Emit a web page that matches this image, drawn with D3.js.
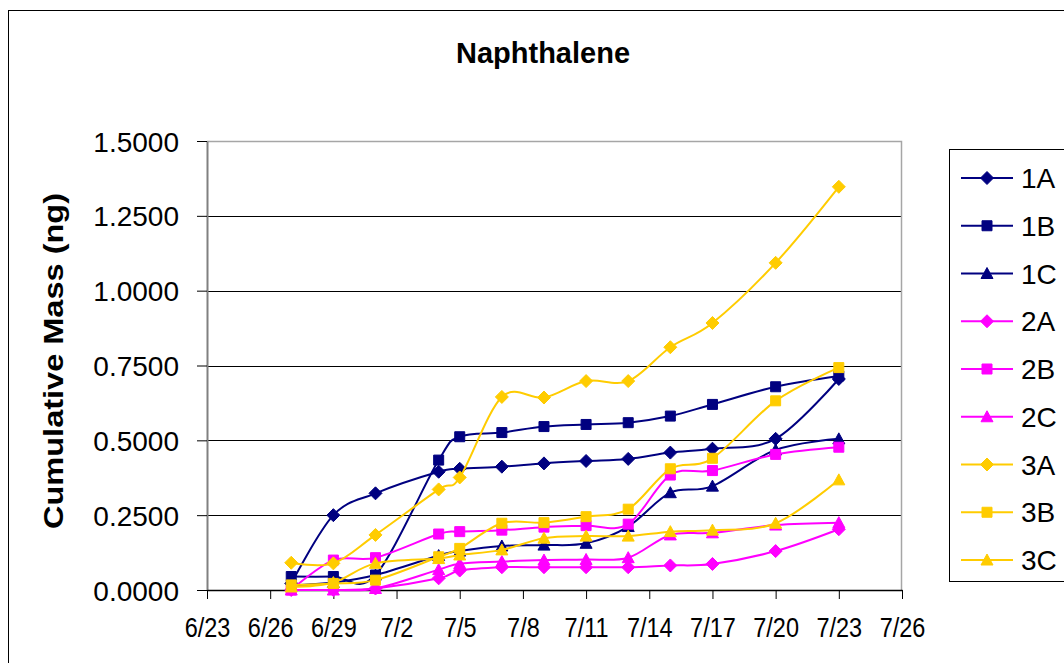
<!DOCTYPE html>
<html>
<head>
<meta charset="utf-8">
<script src="https://cdn.jsdelivr.net/npm/d3@7"></script>
<style>
  html, body { margin: 0; padding: 0; background: #fff; }
  svg { display: block; font-family: "Liberation Sans", Arial, sans-serif; }
</style>
</head>
<body>
<svg id="chart" width="1064" height="663"></svg>
<script>
// ---- Data ----
const dates = ["6/27","6/29","7/1","7/4","7/5","7/7","7/9","7/11","7/13","7/15","7/17","7/20","7/23"];
const xTickLabels = ["6/23","6/26","6/29","7/2","7/5","7/8","7/11","7/14","7/17","7/20","7/23","7/26"];
const yTickValues = [0, 0.25, 0.5, 0.75, 1.0, 1.25, 1.5];
const seriesNames = ["1A","1B","1C","2A","2B","2C","3A","3B","3C"];
const s1A = [0.022, 0.250, 0.323, 0.395, 0.405, 0.412, 0.423, 0.431, 0.438, 0.459, 0.472, 0.505, 0.705];
const s1B = [0.045, 0.045, 0.050, 0.434, 0.512, 0.526, 0.546, 0.553, 0.559, 0.581, 0.620, 0.679, 0.715];
const s1C = [0.015, 0.025, 0.050, 0.115, 0.130, 0.147, 0.150, 0.156, 0.212, 0.325, 0.347, 0.468, 0.505];
const s2A = [0.000, 0.000, 0.005, 0.039, 0.065, 0.076, 0.076, 0.076, 0.076, 0.082, 0.087, 0.130, 0.203];
const s2B = [0.000, 0.100, 0.108, 0.187, 0.195, 0.200, 0.210, 0.215, 0.220, 0.384, 0.399, 0.453, 0.477];
const s2C = [0.000, 0.000, 0.005, 0.068, 0.088, 0.095, 0.100, 0.102, 0.108, 0.184, 0.191, 0.217, 0.225];
const s3A = [0.091, 0.089, 0.184, 0.336, 0.376, 0.645, 0.643, 0.698, 0.698, 0.811, 0.892, 1.093, 1.347];
const s3B = [0.017, 0.022, 0.033, 0.111, 0.139, 0.223, 0.225, 0.245, 0.270, 0.405, 0.440, 0.632, 0.743];
const s3C = [0.010, 0.025, 0.089, 0.105, 0.117, 0.134, 0.173, 0.180, 0.180, 0.195, 0.200, 0.223, 0.368];
const seriesValues = [s1A, s1B, s1C, s2A, s2B, s2C, s3A, s3B, s3C];
const seriesColors = ["#000080","#000080","#000080","#FF00FF","#FF00FF","#FF00FF","#FFCC00","#FFCC00","#FFCC00"];
const seriesShapes = ["diamond","square","triangle","diamond","square","triangle","diamond","square","triangle"];

// ---- Setup ----
const YEAR = 2005;
const parse = s => d3.timeParse("%m/%d/%Y")(s + "/" + YEAR);
const svg = d3.select("#chart");
const font = '"Liberation Sans", Arial, sans-serif';

const plot = { left: 207, right: 902, top: 141, bottom: 590 };
const x = d3.scaleTime().domain([parse("6/23"), parse("7/26")]).range([plot.left, plot.right]);
const y = d3.scaleLinear().domain([0, 1.5]).range([plot.bottom, plot.top]);

// outer chart frame
svg.append("rect").attr("x", 8.5).attr("y", 10.5).attr("width", 1070).attr("height", 670)
  .attr("fill", "#fff").attr("stroke", "#000").attr("stroke-width", 1);

// title
svg.append("text").attr("x", 543).attr("y", 63).attr("text-anchor", "middle")
  .attr("font-size", 29).attr("font-weight", "bold").attr("font-family", font).text("Naphthalene");

// gridlines
svg.append("g").selectAll("line").data(yTickValues.filter(v => v > 0 && v < 1.5)).join("line")
  .attr("x1", plot.left).attr("x2", plot.right)
  .attr("y1", d => Math.round(y(d)) + 0.5).attr("y2", d => Math.round(y(d)) + 0.5)
  .attr("stroke", "#000").attr("stroke-width", 1);

// plot area border (top/right gray)
svg.append("path")
  .attr("d", `M${plot.left},${plot.top + 0.5}H${plot.right - 0.5}V${plot.bottom}`)
  .attr("fill", "none").attr("stroke", "#a6a6a6").attr("stroke-width", 1.5);

// Y axis
const yAxis = d3.axisLeft(y).tickValues(yTickValues).tickSize(10).tickSizeOuter(0)
  .tickFormat(d3.format(".4f"));
const gy = svg.append("g").attr("transform", `translate(${plot.left},0)`).call(yAxis);
gy.select(".domain").attr("stroke", "#808080").attr("stroke-width", 2);
gy.selectAll(".tick line").attr("stroke", "#000");
gy.selectAll(".tick text").attr("font-size", 28).attr("font-family", font).attr("fill", "#000")
  .attr("x", -28).attr("dy", "0.36em");

// X axis
const xAxis = d3.axisBottom(x).tickValues(xTickLabels.map(parse)).tickSize(9).tickSizeOuter(0)
  .tickFormat(d3.timeFormat("%-m/%-d"));
const gx = svg.append("g").attr("transform", `translate(0,${plot.bottom})`).call(xAxis);
gx.select(".domain").attr("stroke", "#000").attr("stroke-width", 1.5);
gx.selectAll(".tick line").attr("stroke", "#000");
gx.selectAll(".tick text").attr("font-size", 27).attr("font-family", font).attr("fill", "#000")
  .attr("y", 0).attr("dy", 0)
  .attr("transform", "translate(0,47) scale(0.87,1)");

// Y axis title
svg.append("text").attr("transform", "translate(63,361) rotate(-90)")
  .attr("text-anchor", "middle").attr("font-size", 27).attr("font-weight", "bold")
  .attr("font-family", font).attr("textLength", 336).attr("lengthAdjust", "spacingAndGlyphs")
  .text("Cumulative Mass (ng)");

// marker generator
function markerPath(shape) {
  if (shape === "diamond") return "M0,-6.5L6.5,0L0,6.5L-6.5,0Z";
  if (shape === "square") return "M-5,-5H5V5H-5Z";
  return "M0,-6L6,5H-6Z";
}

const line = d3.line().x(d => x(d.date)).y(d => y(d.value)).curve(d3.curveCatmullRom.alpha(0));
const dateObjs = dates.map(parse);

seriesNames.forEach((name, i) => {
  const data = dateObjs.map((d, j) => ({ date: d, value: seriesValues[i][j] }));
  const g = svg.append("g");
  g.append("path").datum(data).attr("d", line).attr("fill", "none")
    .attr("stroke", seriesColors[i]).attr("stroke-width", 2);
  g.selectAll("path.m").data(data).join("path").attr("class", "m")
    .attr("d", markerPath(seriesShapes[i]))
    .attr("transform", d => `translate(${x(d.date)},${y(d.value)})`)
    .attr("fill", seriesColors[i]).attr("stroke", seriesColors[i]).attr("stroke-width", 1);
});

// Legend
const legend = svg.append("g");
legend.append("rect").attr("x", 949.5).attr("y", 149.5).attr("width", 140).attr("height", 432)
  .attr("fill", "#fff").attr("stroke", "#000").attr("stroke-width", 1);
seriesNames.forEach((name, i) => {
  const cy = 178 + i * 47.75;
  const g = legend.append("g").attr("transform", `translate(0,${cy})`);
  g.append("line").attr("x1", 961).attr("x2", 1013).attr("y1", 0).attr("y2", 0)
    .attr("stroke", seriesColors[i]).attr("stroke-width", 2);
  g.append("path").attr("d", markerPath(seriesShapes[i])).attr("transform", "translate(987,0)")
    .attr("fill", seriesColors[i]).attr("stroke", seriesColors[i]);
  g.append("text").attr("x", 1021).attr("y", 0).attr("dy", "0.36em")
    .attr("font-size", 28).attr("font-family", font).text(name);
});
</script>
</body>
</html>
